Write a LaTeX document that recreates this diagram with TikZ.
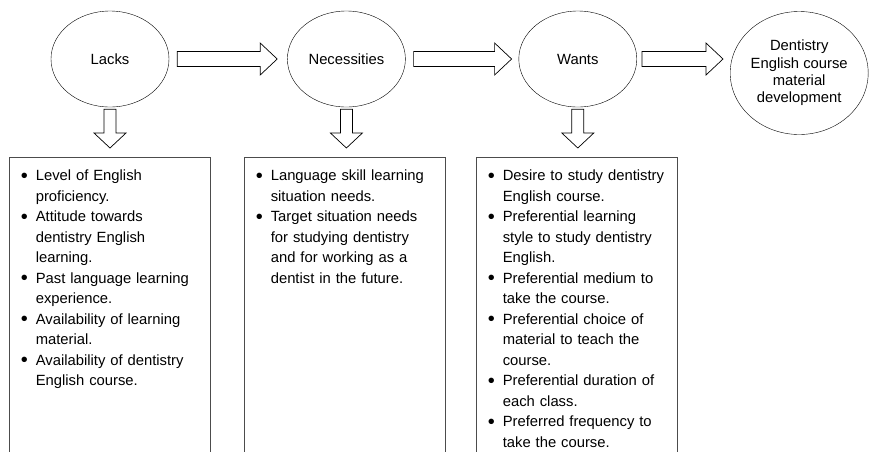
\documentclass[tikz,border=0pt]{standalone}
\usepackage{fontspec}
\setmainfont{Liberation Sans}
\usetikzlibrary{positioning,shapes.geometric,calc}

\newcommand{\bl}{\noindent\llap{\raisebox{-1.3pt}{\fontsize{20}{20}\selectfont\textbullet}\hspace{8pt}}}
% hollow block arrows, drawn from one node to the next
\newcommand{\harrow}[2]{\draw[blockarrow] let \p1=(#1), \p2=(#2) in
  (\x1,\y1-7.5pt) -- (\x2-17pt,\y1-7.5pt) -- (\x2-17pt,\y1-16pt) -- (\x2,\y1)
  -- (\x2-17pt,\y1+16pt) -- (\x2-17pt,\y1+7.5pt) -- (\x1,\y1+7.5pt) -- cycle;}
\newcommand{\varrow}[2]{\draw[blockarrow] let \p1=(#1), \p2=(#2) in
  (\x1-6pt,\y1) -- (\x1-6pt,\y2+15pt) -- (\x1-16pt,\y2+15pt) -- (\x1,\y2)
  -- (\x1+16pt,\y2+15pt) -- (\x1+6pt,\y2+15pt) -- (\x1+6pt,\y1) -- cycle;}

\begin{document}
\begin{tikzpicture}[x=1pt, y=-1pt,
    font=\fontsize{14.8}{20.5}\selectfont,
    oval/.style={draw, ellipse, minimum width=118pt, minimum height=96pt, inner sep=0pt},
    listbox/.style={draw=black!70, line width=0.8pt, minimum width=201pt, minimum height=320pt, anchor=north},
    listtext/.style={anchor=north west, inner sep=0pt, text width=175pt, align=left},
    blockarrow/.style={draw, line width=0.7pt}]
        \useasboundingbox (0,0) rectangle (870,451);
        \clip (0,0) rectangle (870,451);

        \node[oval] (lacks) at (110,59) {Lacks};
        \node[oval, right=118pt of lacks] (necessities) {Necessities};
        \node[oval, right=113pt of necessities] (wants) {Wants};
        \node[oval, right=93pt of wants, yshift=-14pt, minimum width=138pt, minimum height=123pt,
            align=center, font=\fontsize{14.8}{17.4}\selectfont] (dentistry)
            {Dentistry\\English course\\material\\development};

        \harrow{[xshift=8pt]lacks.east}{[xshift=-10pt]necessities.west}
        \harrow{[xshift=8pt]necessities.east}{[xshift=-7pt]wants.west}
        \harrow{[xshift=5pt]wants.east}{[xshift=-7pt,yshift=14pt]dentistry.west}

        \node[listbox] (lacksbox) at (109.5,157) {};
        \node[listbox] (necbox) at (344.5,157) {};
        \node[listbox] (wantsbox) at (576.5,157) {};

        \varrow{[yshift=-2pt]lacks.south}{[yshift=9pt]lacksbox.north}
        \varrow{[yshift=-2pt]necessities.south}{[yshift=9pt]necbox.north}
        \varrow{[yshift=-2pt]wants.south}{[yshift=9pt]wantsbox.north}

        \node[listtext] (lackstext) at ([xshift=27pt,yshift=-13pt]lacksbox.north west) {%
            \bl Level of English\\ proficiency.\\
            \bl Attitude towards\\ dentistry English\\ learning.\\
            \bl Past language learning\\ experience.\\
            \bl Availability of learning\\ material.\\
            \bl Availability of dentistry\\ English course.};
        \node[listtext] (nectext) at ([xshift=27pt,yshift=-13pt]necbox.north west) {%
            \bl Language skill learning\\ situation needs.\\
            \bl Target situation needs\\ for studying dentistry\\ and for working as a\\ dentist in the future.};
        \node[listtext] (wantstext) at ([xshift=27pt,yshift=-13pt]wantsbox.north west) {%
            \bl Desire to study dentistry\\ English course.\\
            \bl Preferential learning\\ style to study dentistry\\ English.\\
            \bl Preferential medium to\\ take the course.\\
            \bl Preferential choice of\\ material to teach the\\ course.\\
            \bl Preferential duration of\\ each class.\\
            \bl Preferred frequency to\\ take the course.};
    \end{tikzpicture}
\end{document}
